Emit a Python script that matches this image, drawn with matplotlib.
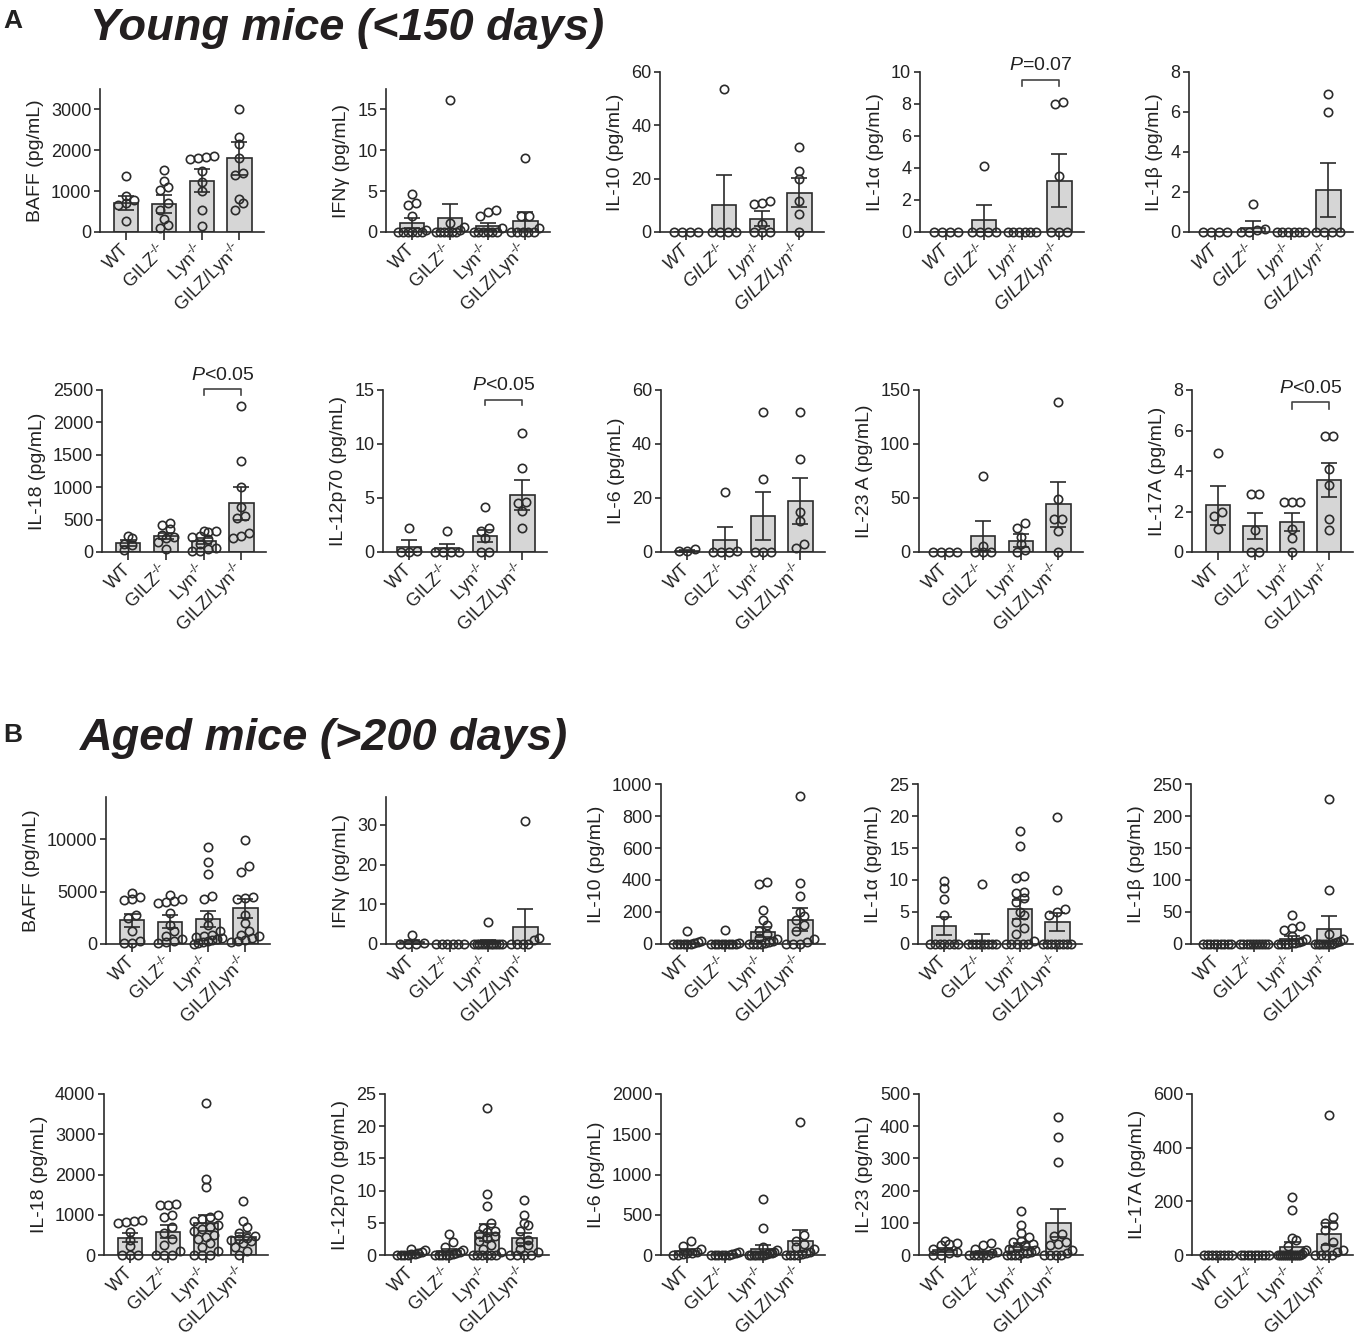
import numpy as np
import matplotlib
matplotlib.use('Agg')
import matplotlib.pyplot as plt

plt.rcParams['font.family'] = ['Liberation Sans', 'DejaVu Sans']
plt.rcParams['mathtext.fontset'] = 'custom'
plt.rcParams['mathtext.rm'] = 'Liberation Sans'
plt.rcParams['mathtext.it'] = 'Liberation Sans:italic'
plt.rcParams['mathtext.bf'] = 'Liberation Sans:bold'
for k in ['text.color', 'axes.labelcolor', 'xtick.color', 'ytick.color']:
    plt.rcParams[k] = '#222222'

groups = ['WT', r'GILZ$^{\text{-/-}}$', r'Lyn$^{\text{-/-}}$', r'GILZ/Lyn$^{\text{-/-}}$']

# ---- Young mice (<150 days) ----
y_baff = [[1370, 880, 780, 700, 650, 280],
          [1520, 1240, 1090, 1030, 700, 550, 330, 180, 100],
          [1850, 1830, 1800, 1790, 1500, 1230, 1000, 550, 150],
          [3000, 2330, 2150, 1800, 1450, 1400, 800, 700, 550]]
y_baff_mean = [710, 690, 1260, 1800]
y_baff_sem = [160, 220, 270, 400]

y_ifng = [[4.7, 3.5, 3.3, 2.0, 0.3, 0, 0, 0, 0, 0, 0],
          [16.2, 1.1, 0.6, 0.3, 0, 0, 0, 0, 0, 0],
          [2.7, 2.5, 2.0, 0.5, 0, 0, 0, 0, 0, 0],
          [9.0, 2.0, 1.9, 0.5, 0, 0, 0, 0, 0]]
y_ifng_mean = [1.1, 1.7, 0.7, 1.3]
y_ifng_sem = [0.6, 1.7, 0.45, 1.1]

y_il10 = [[0, 0, 0, 0],
          [53.5, 0, 0, 0, 0],
          [11.5, 11, 10.5, 3, 0, 0, 0],
          [32, 23, 20, 11.8, 6.8, 0]]
y_il10_mean = [0, 10.3, 5.0, 14.8]
y_il10_sem = [0, 11, 2.8, 5.5]

y_il1a = [[0, 0, 0, 0],
          [4.1, 0, 0, 0, 0],
          [0, 0, 0, 0, 0, 0],
          [8.1, 8.0, 3.5, 0, 0, 0]]
y_il1a_mean = [0, 0.77, 0, 3.2]
y_il1a_sem = [0, 0.93, 0, 1.65]

y_il1b = [[0, 0, 0, 0],
          [1.4, 0.15, 0.1, 0, 0],
          [0, 0, 0, 0, 0, 0],
          [6.9, 6.0, 0, 0, 0, 0]]
y_il1b_mean = [0, 0.22, 0, 2.1]
y_il1b_sem = [0, 0.33, 0, 1.35]

y_il18 = [[240, 220, 130, 110, 30],
          [440, 420, 350, 260, 230, 220, 150, 40],
          [330, 320, 310, 250, 230, 200, 130, 60, 40, 20, 10],
          [2250, 1400, 1000, 700, 560, 520, 300, 250, 220]]
y_il18_mean = [140, 250, 170, 750]
y_il18_sem = [45, 50, 45, 250]

y_il12 = [[2.2, 0.1, 0, 0],
          [1.9, 0, 0, 0, 0],
          [4.2, 2.2, 1.9, 1.3, 0, 0],
          [11.0, 7.8, 4.6, 4.5, 3.8, 2.2]]
y_il12_mean = [0.5, 0.37, 1.5, 5.3]
y_il12_sem = [0.6, 0.4, 0.55, 1.4]

y_il6 = [[1.2, 0.4, 0.2],
         [22.3, 0.3, 0, 0, 0],
         [52, 27, 0, 0, 0],
         [52, 34.4, 14.8, 11.5, 3.1, 1.5]]
y_il6_mean = [0.5, 4.6, 13.4, 19]
y_il6_sem = [0.35, 4.7, 9, 8.5]

y_il23 = [[0, 0, 0, 0],
          [70, 6, 0, 0, 0],
          [27, 22, 14, 7, 2, 0],
          [139, 49, 31, 31, 19, 0]]
y_il23_mean = [0, 14.8, 10.5, 44]
y_il23_sem = [0, 14, 5.9, 21]

y_il17 = [[4.9, 2.0, 1.8, 1.15],
          [2.85, 2.85, 1.1, 0, 0],
          [2.45, 2.45, 2.45, 1.15, 0.7, 0],
          [5.75, 5.75, 4.1, 3.3, 1.65, 1.1]]
y_il17_mean = [2.3, 1.3, 1.48, 3.55]
y_il17_sem = [0.95, 0.65, 0.45, 0.85]

# ---- Aged mice (>200 days) ----
a_baff = [[4900, 4500, 4300, 4200, 2800, 2500, 1200, 300, 100, 100],
          [4700, 4300, 4100, 4000, 3900, 3000, 1800, 1200, 800, 500, 300, 200, 100],
          [9200, 7800, 6700, 4600, 4300, 2600, 1800, 1200, 900, 800, 700, 600, 500, 400, 300, 200, 100, 0],
          [9900, 7400, 6900, 4500, 4400, 4300, 2800, 2000, 1200, 900, 800, 600, 400, 300, 200]]
a_baff_mean = [2240, 2140, 2400, 3400]
a_baff_sem = [650, 600, 750, 900]

a_ifng = [[2.3, 0.3, 0, 0, 0],
          [0, 0, 0, 0, 0, 0],
          [5.5, 0, 0, 0, 0, 0, 0, 0, 0, 0, 0, 0],
          [31, 1.6, 1.0, 0, 0, 0, 0]]
a_ifng_mean = [0.5, 0, 0.45, 4.3]
a_ifng_sem = [0.45, 0, 0.45, 4.6]

a_il10 = [[80, 20, 10, 5, 0, 0, 0, 0, 0, 0],
          [90, 5, 0, 0, 0, 0, 0, 0, 0, 0],
          [390, 375, 210, 150, 120, 80, 60, 40, 30, 20, 10, 5, 0, 0, 0, 0],
          [925, 380, 300, 200, 175, 150, 120, 80, 30, 10, 0, 0, 0]]
a_il10_mean = [8, 9, 75, 152]
a_il10_sem = [8, 9, 31, 73]

a_il1a = [[9.9, 8.7, 7.0, 4.6, 0, 0, 0, 0, 0, 0, 0],
          [9.35, 0, 0, 0, 0, 0, 0, 0, 0],
          [17.7, 15.3, 10.6, 10.3, 8.2, 8.0, 7.2, 6.5, 5.0, 4.5, 3.5, 2.5, 1.5, 0.5, 0, 0, 0, 0, 0],
          [19.8, 8.5, 5.4, 5.0, 4.5, 0, 0, 0, 0, 0, 0, 0, 0]]
a_il1a_mean = [2.75, 0.5, 5.4, 3.4]
a_il1a_sem = [1.4, 1.0, 1.45, 1.4]

a_il1b = [[0, 0, 0, 0, 0, 0, 0, 0, 0],
          [0, 0, 0, 0, 0, 0, 0, 0, 0, 0],
          [45, 28, 25, 22, 12, 8, 5, 3, 2, 1, 0, 0, 0, 0],
          [226, 85, 15, 8, 5, 3, 2, 0, 0, 0, 0, 0, 0, 0]]
a_il1b_mean = [0, 0, 8, 23.4]
a_il1b_sem = [0, 0, 4, 20]

a_il18 = [[870, 850, 830, 800, 580, 380, 220, 0, 0, 0],
          [1260, 1250, 1240, 1000, 950, 700, 550, 400, 250, 100, 0, 0, 0],
          [3780, 1900, 1700, 1000, 950, 900, 850, 750, 700, 650, 600, 500, 450, 400, 300, 200, 100, 0, 0, 0],
          [1350, 850, 700, 550, 480, 430, 400, 380, 350, 300, 200, 100, 0]]
a_il18_mean = [431, 580, 788, 456]
a_il18_sem = [110, 160, 200, 90]

a_il12 = [[1.0, 0.8, 0.5, 0.3, 0.2, 0.1, 0, 0, 0, 0],
          [3.2, 2.0, 1.2, 0.8, 0.5, 0.3, 0.2, 0, 0, 0, 0, 0],
          [22.8, 9.4, 7.6, 5.0, 4.2, 3.8, 3.5, 3.2, 3.0, 2.6, 2.2, 1.5, 1.0, 0.5, 0, 0, 0, 0, 0, 0],
          [8.5, 6.2, 5.0, 4.7, 3.8, 2.4, 2.0, 1.5, 1.0, 0.5, 0, 0, 0, 0]]
a_il12_mean = [0.3, 0.6, 3.47, 2.6]
a_il12_sem = [0.12, 0.3, 1.35, 0.75]

a_il6 = [[170, 110, 70, 40, 30, 20, 10, 0, 0],
         [40, 20, 10, 5, 0, 0, 0, 0, 0],
         [700, 330, 100, 60, 40, 30, 20, 10, 5, 0, 0, 0, 0, 0, 0],
         [1650, 250, 180, 140, 100, 70, 40, 20, 10, 0, 0, 0, 0]]
a_il6_mean = [50, 8, 75, 174]
a_il6_sem = [20, 5, 50, 135]

a_il23 = [[45, 38, 35, 30, 20, 8, 5, 0, 0],
          [38, 30, 20, 10, 5, 0, 0, 0, 0, 0],
          [138, 93, 68, 57, 45, 40, 35, 30, 25, 20, 15, 10, 5, 5, 0, 0, 0, 0],
          [430, 365, 290, 65, 60, 40, 35, 30, 15, 5, 0, 0, 0, 0]]
a_il23_mean = [15.5, 8, 26, 98.5]
a_il23_sem = [6, 4, 10, 43]

a_il17 = [[0, 0, 0, 0, 0, 0, 0, 0],
          [0, 0, 0, 0, 0, 0, 0, 0, 0],
          [218, 166, 65, 55, 35, 20, 10, 5, 0, 0, 0, 0, 0, 0, 0, 0, 0, 0, 0, 0],
          [523, 140, 120, 110, 95, 50, 30, 20, 10, 0, 0, 0, 0]]
a_il17_mean = [0, 0, 28.6, 78]
a_il17_sem = [0, 0, 20, 40]

# label, points, means, sems, y max, y ticks, italic group labels
rows = [
    [('BAFF (pg/mL)', y_baff, y_baff_mean, y_baff_sem, 3500, [0, 1000, 2000, 3000], False),
     ('IFNγ (pg/mL)', y_ifng, y_ifng_mean, y_ifng_sem, 17.5, [0, 5, 10, 15], False),
     ('IL-10 (pg/mL)', y_il10, y_il10_mean, y_il10_sem, 60, [0, 20, 40, 60], True),
     ('IL-1α (pg/mL)', y_il1a, y_il1a_mean, y_il1a_sem, 10, [0, 2, 4, 6, 8, 10], True),
     ('IL-1β (pg/mL)', y_il1b, y_il1b_mean, y_il1b_sem, 8, [0, 2, 4, 6, 8], True)],
    [('IL-18 (pg/mL)', y_il18, y_il18_mean, y_il18_sem, 2500, [0, 500, 1000, 1500, 2000, 2500], False),
     ('IL-12p70 (pg/mL)', y_il12, y_il12_mean, y_il12_sem, 15, [0, 5, 10, 15], False),
     ('IL-6 (pg/mL)', y_il6, y_il6_mean, y_il6_sem, 60, [0, 20, 40, 60], False),
     ('IL-23 A (pg/mL)', y_il23, y_il23_mean, y_il23_sem, 150, [0, 50, 100, 150], False),
     ('IL-17A (pg/mL)', y_il17, y_il17_mean, y_il17_sem, 8, [0, 2, 4, 6, 8], False)],
    [('BAFF (pg/mL)', a_baff, a_baff_mean, a_baff_sem, 14000, [0, 5000, 10000], False),
     ('IFNγ (pg/mL)', a_ifng, a_ifng_mean, a_ifng_sem, 37, [0, 10, 20, 30], False),
     ('IL-10 (pg/mL)', a_il10, a_il10_mean, a_il10_sem, 1000, [0, 200, 400, 600, 800, 1000], False),
     ('IL-1α (pg/mL)', a_il1a, a_il1a_mean, a_il1a_sem, 25, [0, 5, 10, 15, 20, 25], False),
     ('IL-1β (pg/mL)', a_il1b, a_il1b_mean, a_il1b_sem, 250, [0, 50, 100, 150, 200, 250], False)],
    [('IL-18 (pg/mL)', a_il18, a_il18_mean, a_il18_sem, 4000, [0, 1000, 2000, 3000, 4000], False),
     ('IL-12p70 (pg/mL)', a_il12, a_il12_mean, a_il12_sem, 25, [0, 5, 10, 15, 20, 25], False),
     ('IL-6 (pg/mL)', a_il6, a_il6_mean, a_il6_sem, 2000, [0, 500, 1000, 1500, 2000], False),
     ('IL-23 (pg/mL)', a_il23, a_il23_mean, a_il23_sem, 500, [0, 100, 200, 300, 400, 500], False),
     ('IL-17A (pg/mL)', a_il17, a_il17_mean, a_il17_sem, 600, [0, 200, 400, 600], False)],
]

# significance brackets between Lyn-/- and GILZ/Lyn-/-: text, bar level, leg end
pvals = {(0, 3): (r'$\mathit{P}$=0.07', 9.5, 9.15),
         (1, 0): (r'$\mathit{P}$<0.05', 2510, 2430),
         (1, 1): (r'$\mathit{P}$<0.05', 14.1, 13.6),
         (1, 4): (r'$\mathit{P}$<0.05', 7.4, 7.05)}

# layout in pixels
W, H = 1355, 1342
row_base = [232, 552, 944, 1255]
row_top = [[89, 89, 72, 72, 72], [390] * 5, [797, 797, 784, 784, 784], [1094] * 5]
col_left = [[100, 386, 660, 920, 1189], [102, 383, 661, 919, 1192],
            [106, 386, 661, 918, 1191], [104, 385, 661, 919, 1192]]
XMIN, XMAX = -0.7, 3.65
LINE = '#2b2b2b'
BARC = '#d6d6d6'
MK_D = 8.0  # marker diameter in px


def swarm(vals, py, px, d=MK_D, half=14.0):
    vals = np.asarray(vals, float)
    order = np.argsort(vals, kind='stable')
    ypx = vals * py
    groups_, cur = [], [order[0]]
    for i in order[1:]:
        if ypx[i] - ypx[cur[0]] < 0.8 * d:
            cur.append(i)
        else:
            groups_.append(cur)
            cur = [i]
    groups_.append(cur)
    off = np.zeros(len(vals))
    for g in groups_:
        n = len(g)
        if n > 1:
            step = min(d, 2 * half / (n - 1))
            off[g] = (np.arange(n) - (n - 1) / 2) * step
    return off / px


fig = plt.figure(figsize=(W / 100, H / 100), dpi=100)

for r, row in enumerate(rows):
    for c, (label, pts, means, sems, ymax, ticks, ital) in enumerate(row):
        left = col_left[r][c]
        base = row_base[r]
        top = row_top[r][c]
        width = min(164, W - 2 - left)
        ax = fig.add_axes([left / W, 1 - base / H, width / W, (base - top) / H])
        ax.set_xlim(XMIN, XMAX)
        ax.set_ylim(0, ymax)
        py = (base - top) / ymax
        px = width / (XMAX - XMIN)

        x = np.arange(4)
        ax.bar(x, means, width=0.64, color=BARC, edgecolor=LINE, linewidth=1.2, zorder=1)
        for i in range(4):
            if sems[i] > 0:
                lo = min(sems[i], means[i])
                ax.errorbar(i, means[i], yerr=[[lo], [sems[i]]], fmt='none', ecolor=LINE,
                            elinewidth=1.2, capsize=5.8, capthick=1.2, zorder=2, clip_on=False)
            off = swarm(pts[i], py, px)
            ax.plot(i + off, pts[i], 'o', ms=6, mfc='none', mec=LINE, mew=1.2,
                    zorder=3, clip_on=False)

        for s in ['top', 'right']:
            ax.spines[s].set_visible(False)
        for s in ['left', 'bottom']:
            ax.spines[s].set_color(LINE)
            ax.spines[s].set_linewidth(1.2)
        ax.set_yticks(ticks)
        ax.set_xticks(x)
        ax.set_xticklabels(groups, rotation=45, ha='right', va='center',
                           rotation_mode='anchor', fontsize=13,
                           fontstyle='italic' if ital else 'normal')
        ax.tick_params(axis='x', length=5.8, width=1.2, pad=5, colors=LINE, labelcolor='#222222')
        ax.tick_params(axis='y', length=4.3, width=1.2, pad=2, labelsize=13, colors=LINE,
                       labelcolor='#222222')
        ax.set_ylabel(label, fontsize=14, labelpad=5)

        if (r, c) in pvals:
            txt, yb, yl = pvals[(r, c)]
            ax.plot([2, 2, 3, 3], [yl, yb, yb, yl], color='#444444', lw=1.2, clip_on=False)
            ax.annotate(txt, (2.5, yb), xytext=(0, 4), textcoords='offset points',
                        ha='center', va='bottom', fontsize=14, annotation_clip=False)

# panel letters and titles
fig.text(3 / W, 1 - 28 / H, 'A', fontsize=19, fontweight='bold', va='baseline')
fig.text(90 / W, 1 - 40 / H, 'Young mice (<150 days)', fontsize=32.5,
         fontweight='bold', fontstyle='italic', va='baseline', color='#231f20')
fig.text(3 / W, 1 - 742 / H, 'B', fontsize=19, fontweight='bold', va='baseline')
fig.text(80 / W, 1 - 750 / H, 'Aged mice (>200 days)', fontsize=32.5,
         fontweight='bold', fontstyle='italic', va='baseline', color='#231f20')

fig.savefig('out.png', dpi=100)
